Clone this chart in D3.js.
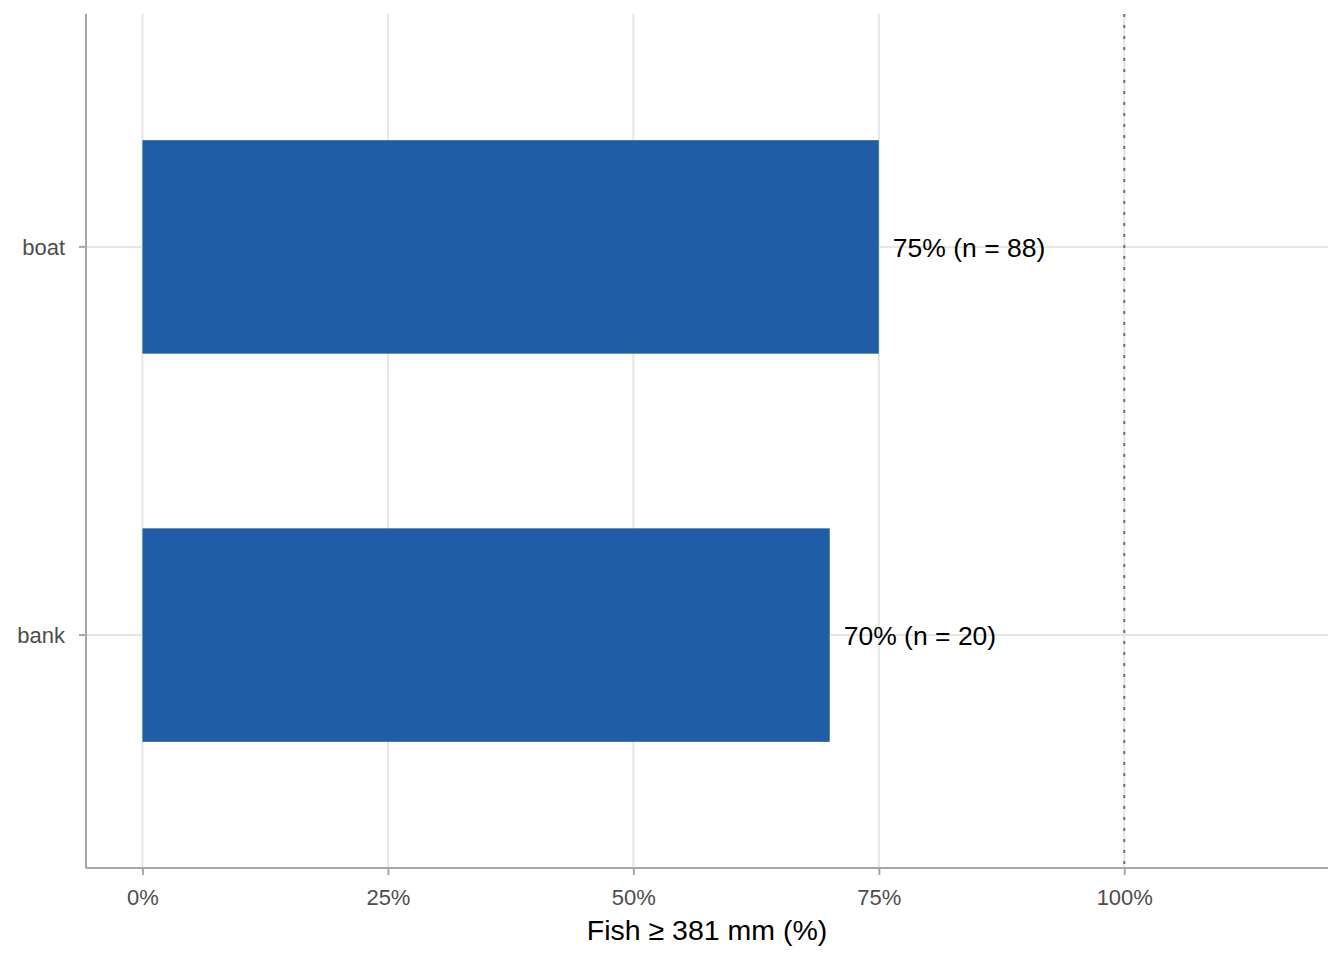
<!DOCTYPE html>
<html>
<head>
<meta charset="utf-8">
<script src="https://cdn.jsdelivr.net/npm/d3@7"></script>
<style>
  body { margin: 0; background: #fff; }
  text { font-family: "Liberation Sans", Arial, sans-serif; }
</style>
</head>
<body>
<div id="main"></div>
<script>
var categories = ["bank", "boat"];
var percents = [70, 75];
var counts = [20, 88];
var xTicks = [0, 25, 50, 75, 100];
var refLine = [100];

var ctx = {
    w: 1344,
    h: 960,
    left: 86,
    right: 1328,
    top: 14,
    bottom: 868,
    BAR_COLOR: "#1f5ea7",
    AXIS_COLOR: "#a6a6a6",
    GRID_COLOR: "#e6e6e6"
};

var svg = d3.select("#main").append("svg")
    .attr("width", ctx.w)
    .attr("height", ctx.h);

// x: 0..115 with 5% expansion
ctx.xScale = d3.scaleLinear().domain([-5.75, 120.75]).range([ctx.left, ctx.right]);
// y: discrete, categories at 1,2 with 0.6 expansion
ctx.yIndex = d3.scaleLinear().domain([0.4, 2.6]).range([ctx.bottom, ctx.top]);
var yPos = function(c) { return ctx.yIndex(categories.indexOf(c) + 1); };
var bandH = ctx.yIndex(0) - ctx.yIndex(0.55);

var data = categories.map(function(c, i) {
    return {cat: c, pct: percents[i], n: counts[i]};
});

// grid lines
var grid = svg.append("g");
grid.selectAll("line.vx").data(xTicks).enter().append("line")
    .attr("x1", function(d) { return ctx.xScale(d); })
    .attr("x2", function(d) { return ctx.xScale(d); })
    .attr("y1", ctx.top).attr("y2", ctx.bottom)
    .style("stroke", ctx.GRID_COLOR).style("stroke-width", 2);
grid.selectAll("line.hy").data(categories).enter().append("line")
    .attr("x1", ctx.left).attr("x2", ctx.right)
    .attr("y1", function(d) { return yPos(d); })
    .attr("y2", function(d) { return yPos(d); })
    .style("stroke", ctx.GRID_COLOR).style("stroke-width", 2);

// bars
svg.append("g").selectAll("rect").data(data).enter().append("rect")
    .attr("x", ctx.xScale(0))
    .attr("width", function(d) { return ctx.xScale(d.pct) - ctx.xScale(0); })
    .attr("y", function(d) { return yPos(d.cat) - bandH / 2; })
    .attr("height", bandH)
    .style("fill", ctx.BAR_COLOR);

// reference line at 100%
svg.append("g").selectAll("line").data(refLine).enter().append("line")
    .attr("x1", function(d) { return ctx.xScale(d); })
    .attr("x2", function(d) { return ctx.xScale(d); })
    .attr("y1", ctx.top).attr("y2", ctx.bottom)
    .style("stroke", "#707070").style("stroke-width", 2)
    .style("stroke-dasharray", "3,8");

// value labels
svg.append("g").selectAll("text").data(data).enter().append("text")
    .attr("x", function(d) { return ctx.xScale(d.pct) + 14; })
    .attr("y", function(d) { return yPos(d.cat); })
    .attr("dy", "0.38em")
    .style("font-size", "26.5px")
    .style("fill", "#000")
    .text(function(d) { return d.pct + "% (n = " + d.n + ")"; });

// x axis
var xAxis = svg.append("g")
    .attr("transform", "translate(0," + ctx.bottom + ")")
    .call(d3.axisBottom(ctx.xScale).tickValues(xTicks)
        .tickFormat(function(d) { return d + "%"; }).tickSize(7).tickPadding(14).tickSizeOuter(0));
xAxis.select(".domain").attr("d", "M" + ctx.left + ",0H" + ctx.right)
    .style("stroke", ctx.AXIS_COLOR).style("stroke-width", 2);
xAxis.selectAll(".tick line").style("stroke", ctx.AXIS_COLOR).style("stroke-width", 2);
xAxis.selectAll(".tick text").style("font-size", "22px").style("fill", "#4d4d4d")
    .style("font-family", "Liberation Sans, Arial, sans-serif");

// y axis
var yAxis = svg.append("g")
    .attr("transform", "translate(" + ctx.left + ",0)");
yAxis.append("line")
    .attr("x1", 0).attr("x2", 0).attr("y1", ctx.top).attr("y2", ctx.bottom)
    .style("stroke", ctx.AXIS_COLOR).style("stroke-width", 2);
yAxis.selectAll("line.tk").data(categories).enter().append("line")
    .attr("x1", -7).attr("x2", 0)
    .attr("y1", function(d) { return yPos(d); })
    .attr("y2", function(d) { return yPos(d); })
    .style("stroke", ctx.AXIS_COLOR).style("stroke-width", 2);
yAxis.selectAll("text").data(categories).enter().append("text")
    .attr("x", -21)
    .attr("y", function(d) { return yPos(d); })
    .attr("dy", "0.36em")
    .style("text-anchor", "end")
    .style("font-size", "22px")
    .style("fill", "#4d4d4d")
    .text(function(d) { return d; });

// x axis title
svg.append("text")
    .attr("x", (ctx.left + ctx.right) / 2)
    .attr("y", 940)
    .style("text-anchor", "middle")
    .style("font-size", "28.5px")
    .style("fill", "#000")
    .text("Fish \u2265 381 mm (%)");
</script>
</body>
</html>
